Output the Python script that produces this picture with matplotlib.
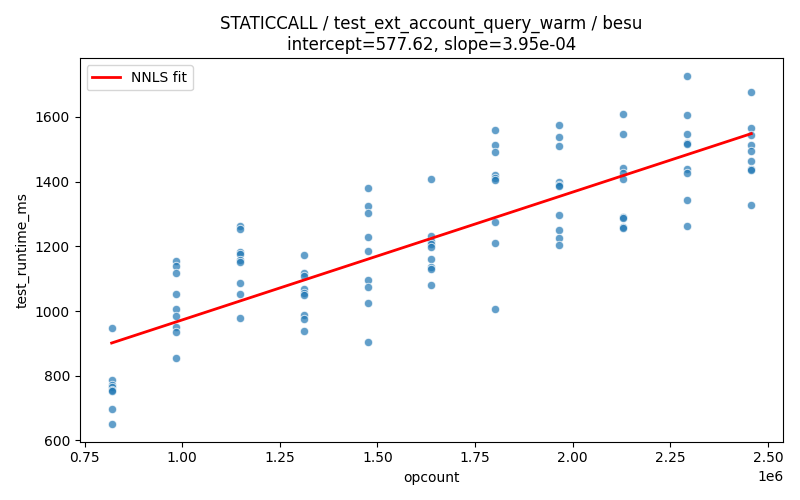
import numpy as np
import matplotlib
matplotlib.use("Agg")
import matplotlib.pyplot as plt

opcounts = [819200, 983040, 1146880, 1310720, 1474560, 1638400,
            1802240, 1966080, 2129920, 2293760, 2457600]

runtimes = [
    [948, 788, 772, 765, 757, 752, 697, 650],
    [1155, 1140, 1118, 1052, 1007, 985, 950, 935, 855],
    [1263, 1254, 1181, 1177, 1158, 1153, 1086, 1052, 978],
    [1173, 1117, 1108, 1068, 1055, 1050, 988, 975, 938],
    [1380, 1325, 1303, 1228, 1185, 1097, 1075, 1025, 905],
    [1408, 1233, 1215, 1207, 1199, 1160, 1135, 1129, 1080],
    [1560, 1512, 1493, 1420, 1410, 1404, 1275, 1210, 1005],
    [1575, 1537, 1510, 1400, 1390, 1385, 1297, 1250, 1227, 1204],
    [1609, 1547, 1443, 1428, 1408, 1292, 1289, 1261, 1256],
    [1727, 1607, 1548, 1519, 1516, 1440, 1427, 1344, 1263],
    [1677, 1566, 1545, 1514, 1495, 1464, 1440, 1437, 1328],
]

intercept = 577.62
slope = 3.95e-04

xs = []
ys = []
for x, vals in zip(opcounts, runtimes):
    for v in vals:
        xs.append(x)
        ys.append(v)

fig, ax = plt.subplots(figsize=(8, 5), dpi=100)
ax.scatter(xs, ys, s=36, color="C0", alpha=0.7, edgecolors="white", linewidths=0.75)

line_x = np.array([min(opcounts), max(opcounts)])
ax.plot(line_x, intercept + slope * line_x, color="red", linewidth=2, label="NNLS fit")

ax.set_xlabel("opcount")
ax.set_ylabel("test_runtime_ms")
ax.set_title("STATICCALL / test_ext_account_query_warm / besu\n"
             "intercept=%.2f, slope=%.2e" % (intercept, slope))
ax.legend(loc="upper left")

fig.tight_layout()
fig.savefig("out.png")
